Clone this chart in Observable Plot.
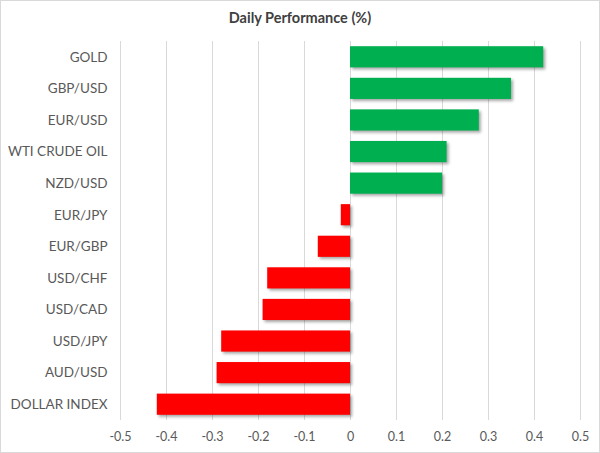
<!DOCTYPE html>
<html>
<head>
<meta charset="utf-8">
<script src="https://cdn.jsdelivr.net/npm/d3@7"></script>
<script src="https://cdn.jsdelivr.net/npm/@observablehq/plot@0.6"></script>
<style>
  html, body { margin: 0; padding: 0; background: #fff; }
  #frame { width: 600px; height: 453px; box-sizing: border-box; border: 1px solid #d9d9d9; overflow: hidden; font-family: Lato, "Open Sans", sans-serif; }
  #title { height: 29px; padding-top: 8px; box-sizing: border-box; text-align: center; font-weight: bold; font-size: 14.5px; color: #404040; }
  svg { display: block; }
</style>
</head>
<body>
<div id="frame">
  <div id="title">Daily Performance (%)</div>
  <div id="chart"></div>
</div>
<script>
const categories = ["GOLD", "GBP/USD", "EUR/USD", "WTI CRUDE OIL", "NZD/USD", "EUR/JPY", "EUR/GBP", "USD/CHF", "USD/CAD", "USD/JPY", "AUD/USD", "DOLLAR INDEX"];
const values = [0.42, 0.35, 0.28, 0.21, 0.20, -0.02, -0.07, -0.18, -0.19, -0.28, -0.29, -0.42];
const xTicks = [-0.5, -0.4, -0.3, -0.2, -0.1, 0, 0.1, 0.2, 0.3, 0.4, 0.5];

const data = categories.map((c, i) => ({category: c, value: values[i]}));

const chart = Plot.plot({
  width: 598,
  height: 423,
  marginTop: 11,
  marginBottom: 33,
  marginLeft: 119,
  marginRight: 19,
  style: {fontFamily: "Lato, 'Open Sans', sans-serif", fontSize: "13.5px", color: "#595959", background: "#fff"},
  x: {domain: [-0.5, 0.5], ticks: xTicks, tickSize: 0, tickPadding: 12, label: null,
      tickFormat: d => (Math.round(d * 10) / 10).toString()},
  y: {domain: categories, paddingInner: 0.33, paddingOuter: 0.165, round: false, tickSize: 0, tickPadding: 13, label: null},
  marks: [
    Plot.gridX(xTicks, {stroke: "#d9d9d9", strokeOpacity: 1}),
    Plot.barX(data, {x: "value", y: "category", fill: d => d.value >= 0 ? "#00b050" : "#ff0000"})
  ]
});
document.getElementById("chart").appendChild(chart);
chart.querySelectorAll("text").forEach(t => t.setAttribute("fill", "#595959"));
chart.querySelectorAll('g[aria-label="x-axis tick label"] text').forEach(t => t.style.fontSize = "12.5px");
const bars = chart.querySelector('g[aria-label="bar"]');
if (bars) bars.style.filter = "drop-shadow(2px 2px 1.5px rgba(0,0,0,0.35))";
</script>
</body>
</html>
